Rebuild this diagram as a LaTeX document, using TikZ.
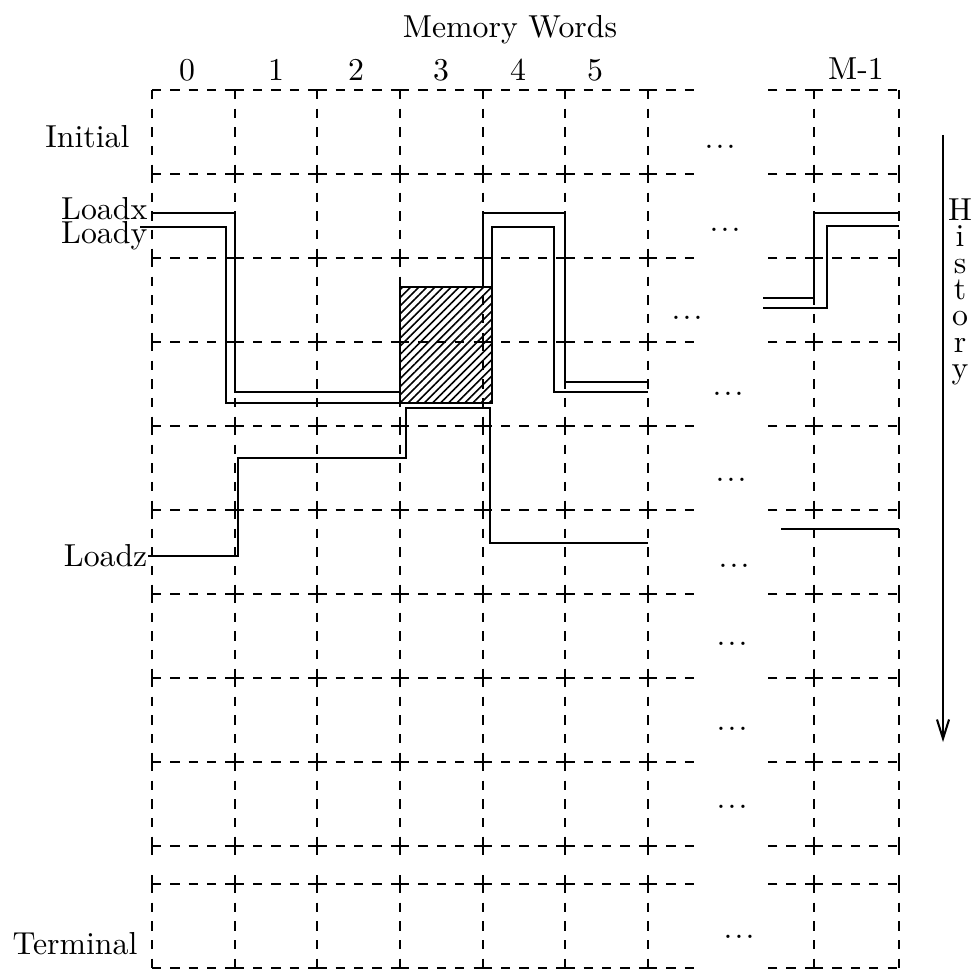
\documentclass[tikz,border=0pt]{standalone}
\usetikzlibrary{arrows.meta,patterns.meta}
\begin{document}
\begin{tikzpicture}[x=0.3145pt,y=-0.3145pt,
  gridh/.style={line width=0.6pt, dash pattern=on 2.889pt off 2.889pt},
  gridv/.style={line width=0.6pt, dash pattern=on 2.935pt off 2.935pt},
  stub/.style={line width=0.6pt},
  sig/.style={line width=0.65pt},
  lbl/.style={inner sep=0pt, font=\fontsize{10}{12}\selectfont},
  ellip/.style={inner sep=0pt, font=\fontsize{10}{12}\selectfont, anchor=base},
  hatch/.style={draw, line width=0.65pt,
    pattern={Lines[angle=45,distance=1.8pt,line width=0.5pt]}},
]
\useasboundingbox (0,0) rectangle (976,973);

% ---- dashed grid: horizontal rules ----
\foreach \y in {90,174,...,846,884,968}{
  \foreach \i in {0,...,5}
    \draw[gridh] ({152+82.667*\i},\y) -- ({152+82.667*(\i+1)},\y);
  \draw[gridh] (648,\y) -- (694,\y);
  \draw[gridh] (814,\y) -- (766,\y);
  \draw[gridh] (814,\y) -- (899,\y);
}
% ---- dashed grid: vertical rules ----
\foreach \x in {152,234.667,317.333,400,482.667,565.333,648,814,899}{
  \foreach \j in {0,...,8}
    \draw[gridv] (\x,{90+84*\j}) -- (\x,{174+84*\j});
  \draw[stub] (\x,846) -- (\x,855.3);
  \draw[stub] (\x,884) -- (\x,874.7);
  \draw[gridv] (\x,884) -- (\x,968);
}

% ---- labels ----
\node[lbl,anchor=base] (title) at (510,38) {Memory Words};
\node[lbl,anchor=base] (c0) at (187,81) {0};
\node[lbl,anchor=base] (c1) at (276,81) {1};
\node[lbl,anchor=base] (c2) at (356,81) {2};
\node[lbl,anchor=base] (c3) at (441,81) {3};
\node[lbl,anchor=base] (c4) at (518,81) {4};
\node[lbl,anchor=base] (c5) at (595,81) {5};
\node[lbl,anchor=base] (cM) at (856,80) {M-1};

\node[lbl,anchor=base east] (initial) at (130,148) {Initial};
\node[lbl,anchor=base east] (loadx) at (148,220) {Loadx};
\node[lbl,anchor=base east] (loady) at (148,244) {Loady};
\node[lbl,anchor=base east] (loadz) at (148,566) {Loadz};
\node[lbl,anchor=base east] (terminal) at (138,954) {Terminal};

% ---- ellipses in the elided columns ----
\foreach \n/\x/\y in {0/720/147,1/725/230,2/687/318,3/728/394,4/731/480,
                      5/734/566,6/732/644,7/732/729,8/732/807,9/739/937}
  \node[ellip] (e\n) at (\x,{\y+1.8}) {.\kern0.7pt.\kern0.7pt.};

% ---- history axis ----
\coordinate (hTop) at (943,135);
\coordinate (hEnd) at (943,742);
\draw[sig,-{Straight Barb[length=6pt,width=3.8pt]}] (hTop) -- (hEnd);
\node[inner sep=0pt, anchor=north, align=center,
      font=\fontsize{10}{8.3}\selectfont] (history) at (960,198)
  {H\\i\\s\\t\\o\\r\\y};

% ---- overlap region of Loadx / Loady ----
\path[hatch] (400,287) rectangle (492,403);

% ---- Loadx ----
\draw[sig] (152,213) -- (234.667,213) -- (234.667,392) -- (400,392);
\draw[sig] (482.667,287) -- (482.667,213) -- (565.333,213)
           -- (565.333,382) -- (648,382);
\draw[sig] (763,298) -- (814,298) -- (814,213) -- (899,213);

% ---- Loady ----
\draw[sig] (140,227) -- (226,227) -- (226,403) -- (400,403);
\draw[sig] (492,289) -- (492,227) -- (554,227) -- (554,392) -- (648,392);
\draw[sig] (763,308) -- (827,308) -- (827,226) -- (899,226);

% ---- Loadz ----
\draw[sig] (148,556) -- (238,556) -- (238,458) -- (406,458) -- (406,408)
           -- (490,408) -- (490,543) -- (648,543);
\draw[sig] (781,529) -- (899,529);
\end{tikzpicture}
\end{document}
